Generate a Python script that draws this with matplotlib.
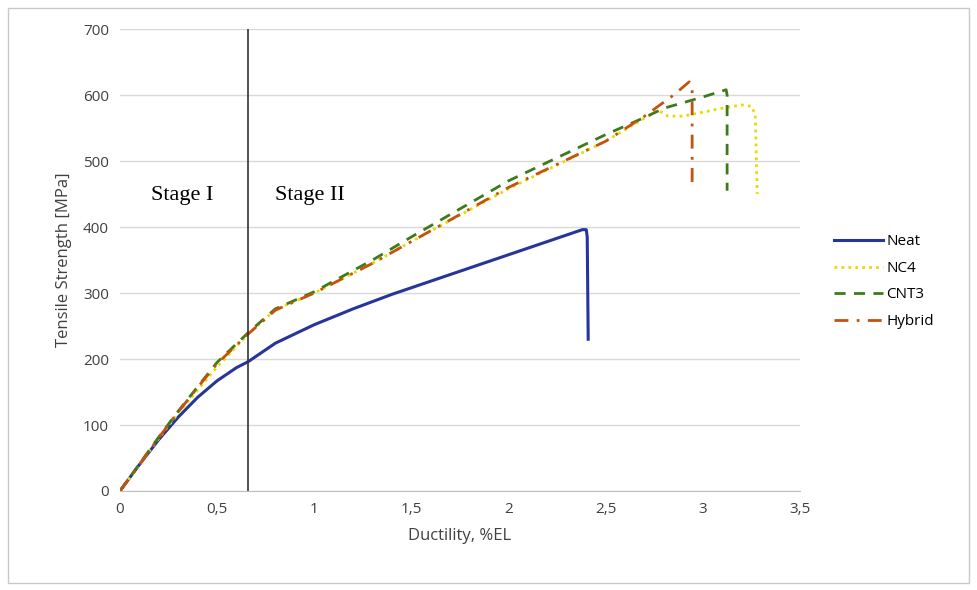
import numpy as np
import matplotlib.pyplot as plt
from matplotlib.patches import Rectangle

# >>>>>>>>>>>>> data <<<<<<<<<<<<< #

neat_x = [0, 0.1, 0.2, 0.3, 0.4, 0.5, 0.6, 0.66, 0.8, 1.0, 1.2, 1.4, 1.6, 1.8, 2.0, 2.2, 2.3, 2.38, 2.40, 2.405, 2.41]
neat_y = [0, 40, 78, 112, 142, 167, 187, 196, 224, 252, 276, 298, 318, 338, 358, 378, 388, 396, 396, 385, 230]

nc4_x = [0, 0.1, 0.2, 0.3, 0.4, 0.5, 0.66, 0.8, 1.0, 1.3, 1.5, 2.0, 2.5, 2.7, 2.77, 2.82, 2.9, 3.0, 3.1, 3.2, 3.25, 3.27, 3.28]
nc4_y = [0, 40, 80, 118, 153, 188, 238, 275, 300, 345, 378, 458, 530, 565, 577, 568, 568, 574, 580, 585, 583, 570, 450]

cnt3_x = [0, 0.1, 0.2, 0.3, 0.4, 0.5, 0.66, 0.8, 1.0, 1.3, 1.5, 2.0, 2.5, 2.7, 2.8, 3.0, 3.12, 3.125, 3.125]
cnt3_y = [0, 41, 82, 121, 158, 195, 240, 276, 302, 350, 385, 470, 540, 566, 580, 597, 608, 600, 455]

hyb_x = [0, 0.1, 0.2, 0.3, 0.4, 0.5, 0.66, 0.8, 1.0, 1.3, 1.5, 2.0, 2.5, 2.7, 2.85, 2.93, 2.945, 2.945]
hyb_y = [0, 40, 81, 120, 157, 193, 238, 274, 300, 345, 378, 460, 530, 568, 600, 620, 610, 465]

stage_x = 0.66

# >>>>>>>>>>>>> figure <<<<<<<<<<<<< #

plt.rcParams['font.family'] = ['Open Sans', 'DejaVu Sans']

fig = plt.figure(figsize=(9.77, 5.9), dpi=100)
ax = fig.add_axes([0.1228, 0.1678, 0.696, 0.783])

fig.patches.append(Rectangle((0.008, 0.012), 0.984, 0.975, transform=fig.transFigure,
                             fill=False, edgecolor='#c8c8c8', linewidth=1.0))

ax.plot(neat_x, neat_y, color='#25359a', linewidth=2.2, linestyle='solid', label='Neat')
ax.plot(nc4_x, nc4_y, color='#e5dc00', linewidth=2.0, linestyle=(0, (1, 1.5)), label='NC4')
ax.plot(cnt3_x, cnt3_y, color='#3e7a1c', linewidth=2.0, linestyle=(0, (4, 3)), label='CNT3')
ax.plot(hyb_x, hyb_y, color='#c4520f', linewidth=2.0, linestyle=(0, (5, 3, 1, 3)), label='Hybrid')

ax.axvline(stage_x, color='#333333', linewidth=1.2)

ax.text(0.32, 448, 'Stage I', family='Liberation Serif', fontsize=16, ha='center', va='center')
ax.text(0.98, 448, 'Stage II', family='Liberation Serif', fontsize=16, ha='center', va='center')

ax.set_xlim(0, 3.5)
ax.set_ylim(0, 700)
ax.set_xticks(np.arange(0, 3.51, 0.5))
ax.set_xticklabels(['0', '0,5', '1', '1,5', '2', '2,5', '3', '3,5'])
ax.set_yticks(np.arange(0, 701, 100))

ax.grid(axis='y', color='#d9d9d9', linewidth=1.0)
ax.set_axisbelow(True)
for s in ['top', 'right', 'left']:
    ax.spines[s].set_visible(False)
ax.spines['bottom'].set_color('#bfbfbf')
ax.tick_params(axis='both', length=0, labelsize=11, colors='#404040', pad=8)

ax.set_xlabel('Ductility, %EL', fontsize=12, color='#404040', labelpad=8)
ax.set_ylabel('Tensile Strength [MPa]', fontsize=12, color='#404040', labelpad=8)

ax.legend(loc='upper left', bbox_to_anchor=(1.03, 0.585), frameon=False, fontsize=11,
          handlelength=3.2, labelspacing=0.75, handletextpad=0.2)

fig.savefig('out.png', dpi=100)
